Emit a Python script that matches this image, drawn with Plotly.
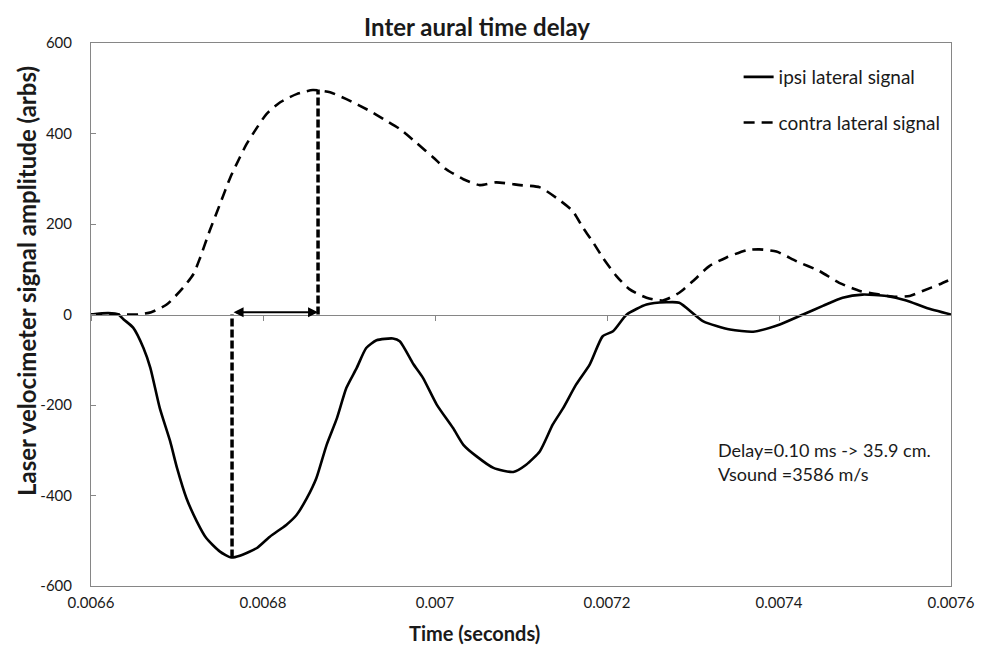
import plotly.graph_objects as go

# ---- data ----
contra_t = [0.006600, 0.006630, 0.006655, 0.006670, 0.006688, 0.006707, 0.006719, 0.006727, 0.006738,
            0.006750, 0.006762, 0.006773, 0.006781, 0.006793, 0.006804, 0.006820, 0.006839, 0.006858,
            0.006878, 0.006897, 0.006924, 0.006940, 0.006959, 0.006978, 0.006998, 0.007013, 0.007033,
            0.007052, 0.007071, 0.007099, 0.007122, 0.007141, 0.007160, 0.007172, 0.007184, 0.007195,
            0.007211, 0.007226, 0.007246, 0.007265, 0.007284, 0.007300, 0.007319, 0.007339, 0.007362,
            0.007377, 0.007397, 0.007420, 0.007447, 0.007470, 0.007494, 0.007517, 0.007536, 0.007552,
            0.007567, 0.007587, 0.007600]
contra_v = [0, 0, 0, 5, 22, 59, 89, 126, 185,
            244, 303, 347, 377, 413, 443, 469, 487, 496,
            491, 476, 450, 432, 410, 380, 347, 321, 299,
            286, 292, 286, 281, 258, 229, 192, 159, 126,
            85, 56, 37, 31, 48, 74, 107, 126, 142,
            144, 139, 118, 96, 70, 52, 44, 39, 41,
            52, 67, 78]

ipsi_t = [0.006600, 0.006620, 0.006632, 0.006638, 0.006649, 0.006661, 0.006669, 0.006680, 0.006692,
          0.006700, 0.006711, 0.006723, 0.006734, 0.006750, 0.006763, 0.006773, 0.006793, 0.006808,
          0.006827, 0.006839, 0.006851, 0.006862, 0.006874, 0.006886, 0.006897, 0.006909, 0.006920,
          0.006932, 0.006951, 0.006959, 0.006975, 0.006986, 0.007002, 0.007021, 0.007033, 0.007048,
          0.007068, 0.007091, 0.007106, 0.007122, 0.007137, 0.007149, 0.007164, 0.007180, 0.007195,
          0.007207, 0.007223, 0.007246, 0.007269, 0.007284, 0.007312, 0.007343, 0.007370, 0.007401,
          0.007428, 0.007451, 0.007474, 0.007497, 0.007525, 0.007548, 0.007571, 0.007600]
ipsi_v = [0, 3, 0, -11, -29, -74, -118, -207, -280,
          -339, -406, -457, -494, -524, -537, -533, -516, -491,
          -465, -443, -406, -362, -288, -229, -162, -118, -74,
          -57, -53, -59, -110, -140, -199, -251, -288, -313,
          -339, -348, -332, -302, -243, -207, -155, -110, -48,
          -37, 0, 22, 27, 26, -15, -33, -38, -22,
          0, 19, 37, 44, 41, 31, 15, 0]

delay_t = [0.006764, 0.006864]          # ipsi minimum time, contra peak time
delay_v = [-537, 497]                    # amplitudes at those times
arrow_level = 5

x_ticks = [0.0066, 0.0068, 0.0070, 0.0072, 0.0074, 0.0076]
x_labels = ["0.0066", "0.0068", "0.007", "0.0072", "0.0074", "0.0076"]
y_ticks = [-600, -400, -200, 0, 200, 400, 600]
y_labels = ["-600", "-400", "-200", "0", "200", "400", "600"]

FONT = "Lato"
AX = "#868686"
TXT = "#1a1a1a"

# the page body adds an 8px offset; margins compensate for it
W, H = 984, 652
OFF = 8
L, T = 91 - OFF, 43 - OFF
PW, PH = 860.5, 543.2
R, B = W - L - PW, H - T - PH


def px(xp):   # page x -> paper x
    return (xp - OFF - L) / PW


def py(yp):   # page y -> paper y
    return (T + PH - (yp - OFF)) / PH


fig = go.Figure()

fig.add_trace(go.Scatter(x=ipsi_t, y=ipsi_v, mode="lines", name="ipsi lateral signal",
                         line=dict(color="black", width=2.6, shape="spline", smoothing=0.6),
                         legendgroup="a"))
fig.add_trace(go.Scatter(x=contra_t, y=contra_v, mode="lines", name="contra lateral signal",
                         line=dict(color="black", width=2.6, dash="11px,7px", shape="spline", smoothing=0.6),
                         legendgroup="b"))

# dashed connectors
fig.add_trace(go.Scatter(x=[delay_t[0], delay_t[0]], y=[delay_v[0], 0], mode="lines",
                         line=dict(color="black", width=3.5, dash="8px,3px"), showlegend=False,
                         hoverinfo="skip", xaxis="x2"))
fig.add_trace(go.Scatter(x=[delay_t[1], delay_t[1]], y=[0, delay_v[1]], mode="lines",
                         line=dict(color="black", width=3.5, dash="8px,3px"), showlegend=False,
                         hoverinfo="skip", xaxis="x2"))

fig.add_annotation(x=delay_t[1], y=arrow_level, ax=delay_t[0], ay=arrow_level,
                   xref="x", yref="y", axref="x", ayref="y", text="", showarrow=True,
                   arrowhead=2, startarrowhead=2, arrowside="end+start", arrowsize=1,
                   arrowwidth=2, arrowcolor="black")

fig.update_layout(
    width=W, height=H,
    margin=dict(l=L, r=R, t=T, b=B, pad=0),
    paper_bgcolor="white", plot_bgcolor="white",
    font=dict(family=FONT, color=TXT, size=15),
    title=dict(text="<b>Inter aural time delay</b>", x=(477 - OFF) / W, xanchor="center",
               y=1 - (28 - OFF) / H, yanchor="middle", font=dict(size=24, family=FONT, color=TXT)),
    showlegend=True,
    legend=dict(x=px(739), y=py(58), xanchor="left", yanchor="top", bgcolor="rgba(0,0,0,0)",
                font=dict(size=19, family=FONT, color=TXT), tracegroupgap=18),
    xaxis=dict(range=[0.0066, 0.0076], tickvals=x_ticks, ticktext=x_labels, showgrid=False,
               zeroline=False, showline=True, linecolor=AX, linewidth=1, mirror=True, ticks="",
               ticklabelstandoff=3, tickfont=dict(size=15, family=FONT, color=TXT)),
    xaxis2=dict(range=[0.0066, 0.0076], overlaying="x", anchor="free", position=0.5,
                tickvals=x_ticks, showticklabels=False, showgrid=False, zeroline=False,
                showline=True, linecolor=AX, linewidth=1, ticks="outside", ticklen=5,
                tickcolor=AX),
    yaxis=dict(range=[-600, 600], tickvals=y_ticks, ticktext=y_labels, showgrid=False, zeroline=False,
               showline=True, linecolor=AX, linewidth=1, mirror=True, ticks="inside",
               ticklen=5, tickcolor=AX, ticklabelstandoff=15,
               tickfont=dict(size=15, family=FONT, color=TXT)),
)

fig.add_annotation(text="<b>Time (seconds)</b>", xref="paper", yref="paper",
                   x=px(475), y=py(633), xanchor="center", yanchor="middle",
                   showarrow=False, font=dict(size=20, family=FONT, color=TXT))
fig.add_annotation(text="<b>Laser velocimeter signal amplitude (arbs)</b>", xref="paper", yref="paper",
                   x=px(27), y=py(281), xanchor="center", yanchor="middle",
                   textangle=-90, showarrow=False, font=dict(size=24, family=FONT, color=TXT))
fig.add_annotation(text="Delay=0.10 ms -> 35.9 cm.", xref="paper", yref="paper",
                   x=px(716), y=py(450), xanchor="left", yanchor="middle",
                   showarrow=False, font=dict(size=18, family=FONT, color=TXT))
fig.add_annotation(text="Vsound =3586 m/s", xref="paper", yref="paper",
                   x=px(716), y=py(474), xanchor="left", yanchor="middle",
                   showarrow=False, font=dict(size=18, family=FONT, color=TXT))

fig.write_html("out.html")
